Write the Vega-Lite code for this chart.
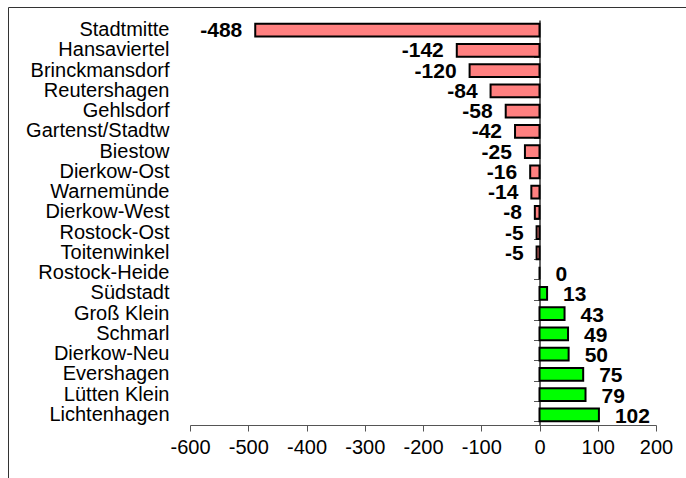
{
  "$schema": "https://vega.github.io/schema/vega-lite/v6.json",
  "autosize": {"type": "none"},
  "width": 466,
  "height": 405,
  "padding": {"left": 190, "top": 20, "right": 30, "bottom": 53},
  "background": "white",
  "title": {
    "text": "gegenüber den anderen Stadtbereichen 2015 bis 2016",
    "font": "Liberation Sans",
    "fontSize": 17,
    "fontWeight": "bold",
    "color": "#000000",
    "baseline": "alphabetic",
    "frame": "group",
    "anchor": "middle",
    "offset": -2,
    "dx": -32
  },
  "config": {
    "view": {"stroke": null},
    "font": "Liberation Sans"
  },
  "data": {
    "values": [
      {"Stadtbereich": "Stadtmitte", "Saldo": -488, "Vorzeichen": "neg"},
      {"Stadtbereich": "Hansaviertel", "Saldo": -142, "Vorzeichen": "neg"},
      {"Stadtbereich": "Brinckmansdorf", "Saldo": -120, "Vorzeichen": "neg"},
      {"Stadtbereich": "Reutershagen", "Saldo": -84, "Vorzeichen": "neg"},
      {"Stadtbereich": "Gehlsdorf", "Saldo": -58, "Vorzeichen": "neg"},
      {"Stadtbereich": "Gartenst/Stadtw", "Saldo": -42, "Vorzeichen": "neg"},
      {"Stadtbereich": "Biestow", "Saldo": -25, "Vorzeichen": "neg"},
      {"Stadtbereich": "Dierkow-Ost", "Saldo": -16, "Vorzeichen": "neg"},
      {"Stadtbereich": "Warnemünde", "Saldo": -14, "Vorzeichen": "neg"},
      {"Stadtbereich": "Dierkow-West", "Saldo": -8, "Vorzeichen": "neg"},
      {"Stadtbereich": "Rostock-Ost", "Saldo": -5, "Vorzeichen": "neg"},
      {"Stadtbereich": "Toitenwinkel", "Saldo": -5, "Vorzeichen": "neg"},
      {"Stadtbereich": "Rostock-Heide", "Saldo": 0, "Vorzeichen": "pos"},
      {"Stadtbereich": "Südstadt", "Saldo": 13, "Vorzeichen": "pos"},
      {"Stadtbereich": "Groß Klein", "Saldo": 43, "Vorzeichen": "pos"},
      {"Stadtbereich": "Schmarl", "Saldo": 49, "Vorzeichen": "pos"},
      {"Stadtbereich": "Dierkow-Neu", "Saldo": 50, "Vorzeichen": "pos"},
      {"Stadtbereich": "Evershagen", "Saldo": 75, "Vorzeichen": "pos"},
      {"Stadtbereich": "Lütten Klein", "Saldo": 79, "Vorzeichen": "pos"},
      {"Stadtbereich": "Lichtenhagen", "Saldo": 102, "Vorzeichen": "pos"}
    ]
  },
  "resolve": {"axis": {"y": "independent"}},
  "layer": [
    {
      "mark": {"type": "bar", "stroke": "#000000", "strokeWidth": 2},
      "encoding": {
        "y": {
          "field": "Stadtbereich", "type": "nominal", "sort": null,
          "scale": {"paddingInner": 0.38, "paddingOuter": 0.19},
          "axis": {
            "orient": "left", "title": null, "domain": false, "ticks": false,
            "labelFontSize": 20, "labelColor": "#000000", "labelPadding": 21,
            "labelFont": "Liberation Sans"
          }
        },
        "x": {
          "field": "Saldo", "type": "quantitative",
          "scale": {"domain": [-600, 200], "nice": false},
          "axis": {
            "title": null, "values": [-600, -500, -400, -300, -200, -100, 0, 100, 200],
            "labelExpr": "'' + datum.value",
            "grid": false, "domainColor": "#555555", "tickColor": "#555555",
            "tickSize": 6, "labelFontSize": 20, "labelColor": "#000000",
            "labelPadding": 6, "labelFont": "Liberation Sans", "labelFlush": false
          }
        },
        "color": {
          "field": "Vorzeichen", "type": "nominal",
          "scale": {"domain": ["neg", "pos"], "range": ["#FF8080", "#00FF00"]},
          "legend": {
            "orient": "none", "legendX": -182, "legendY": -13, "padding": 500,
            "title": null, "strokeColor": "#333333", "labelExpr": "''",
            "symbolOpacity": 0, "symbolStrokeWidth": 0, "labelOpacity": 0
          }
        }
      }
    },
    {
      "mark": {"type": "text", "align": "right", "baseline": "middle", "dx": -13, "dy": 1, "fontSize": 21, "fontWeight": "bold", "font": "Liberation Sans", "color": "#000000"},
      "transform": [{"filter": "datum.Saldo < 0"}],
      "encoding": {
        "y": {
          "field": "Stadtbereich", "type": "nominal", "sort": null,
          "axis": {
            "orient": "left", "offset": -349.5, "title": null, "labels": false,
            "domain": true, "domainColor": "#333333", "domainWidth": 1.5,
            "ticks": true, "tickBand": "extent", "tickSize": 6, "tickColor": "#555555"
          }
        },
        "x": {"field": "Saldo", "type": "quantitative"},
        "text": {"field": "Saldo", "type": "nominal"}
      }
    },
    {
      "mark": {"type": "text", "align": "left", "baseline": "middle", "dx": 16, "dy": 2, "fontSize": 21, "fontWeight": "bold", "font": "Liberation Sans", "color": "#000000"},
      "transform": [{"filter": "datum.Saldo >= 0"}],
      "encoding": {
        "y": {"field": "Stadtbereich", "type": "nominal", "sort": null, "axis": null},
        "x": {"field": "Saldo", "type": "quantitative"},
        "text": {"field": "Saldo", "type": "nominal"}
      }
    }
  ]
}
